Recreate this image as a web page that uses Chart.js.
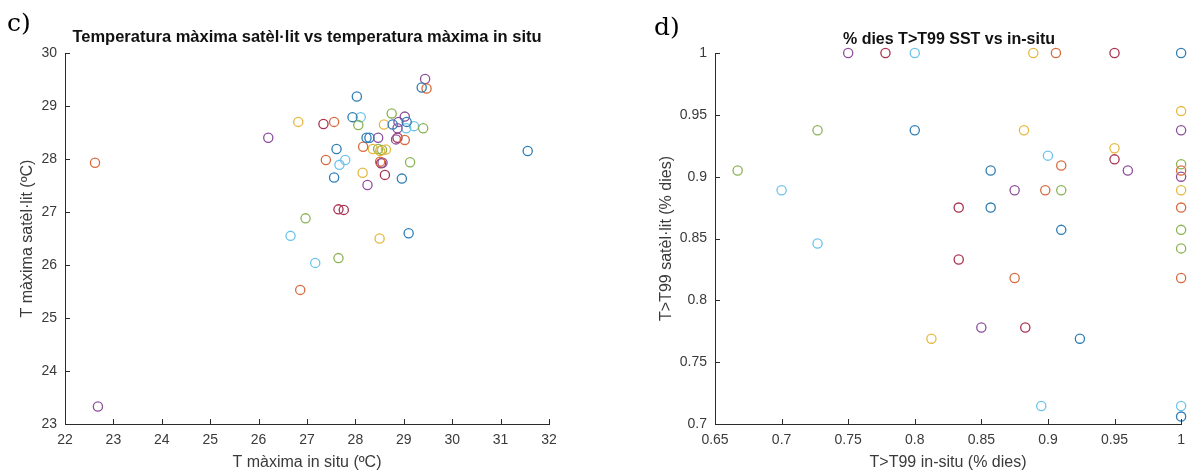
<!DOCTYPE html>
<html>
<head>
<meta charset="utf-8">
<script src="https://cdn.jsdelivr.net/npm/chart.js@4.4.1/dist/chart.umd.min.js"></script>
<style>
  html, body { margin: 0; padding: 0; background: #ffffff; }
  #page { position: relative; width: 1193px; height: 474px; overflow: hidden; background: #fff; }
  .panel { position: absolute; top: 0; height: 474px; }
  .tag { position: absolute; font-family: "DejaVu Serif", "Liberation Serif", serif; font-size: 25px; color: #000; line-height: 28px; }
  .ttl { position: absolute; font-family: "Liberation Sans", Arial, sans-serif; font-weight: bold; color: #111; white-space: nowrap; transform: translateX(-50%); line-height: 20px; }
</style>
</head>
<body>
<div id="page">
  <div class="panel" style="left:0;width:596px;"><canvas id="chartC" width="596" height="474"></canvas></div>
  <div class="panel" style="left:596px;width:597px;"><canvas id="chartD" width="597" height="474"></canvas></div>
  <div class="tag" style="left:7px;top:9px;">c)</div>
  <div class="tag" style="left:654px;top:13px;">d)</div>
  <div class="ttl" style="left:307px;top:26px;font-size:16.5px;">Temperatura màxima satèl·lit vs temperatura màxima in situ</div>
  <div class="ttl" style="left:949px;top:29px;font-size:16px;">% dies T&gt;T99 SST vs in-situ</div>
</div>
<script>
// ---------- Panel c) data ----------
const tMaxInSitu = [29.44, 29.37, 29.47, 28.03, 27.94, 28.11, 28.06, 27.34, 27.56, 28.75,
                    28.59, 28.77, 29.02, 28.89, 29.06, 28.87, 29.05, 29.21, 29.40, 28.23,
                    28.29, 28.47, 28.84, 28.87, 29.02, 28.16, 28.36, 28.47, 28.51, 28.55,
                    28.63, 28.51, 28.53, 28.56, 27.61, 27.39, 27.79, 27.67, 29.13, 27.56,
                    28.15, 28.61, 28.96, 28.25, 26.82, 26.20, 27.65, 27.76, 26.97, 26.66,
                    27.17, 27.65, 26.86, 22.62, 22.68, 31.56, 29.10, 28.50];
const tMaxSatellite = [29.51, 29.35, 29.33, 29.18, 28.79, 28.79, 28.64, 28.66, 28.70, 28.86,
                       28.65, 28.65, 28.80, 28.70, 28.70, 28.58, 28.58, 28.62, 28.58, 28.40,
                       28.40, 28.40, 28.37, 28.40, 28.36, 28.23, 28.19, 28.19, 28.15, 28.17,
                       28.18, 27.95, 27.92, 27.93, 28.19, 27.98, 27.98, 27.89, 27.94, 27.65,
                       27.74, 27.70, 27.63, 27.51, 28.70, 28.40, 27.05, 27.04, 26.88, 26.55,
                       26.04, 26.13, 25.53, 27.93, 23.33, 28.15, 26.60, 26.50];
const seriesC = [3, 0, 1, 0, 0, 5, 4, 6, 1, 4,
                 2, 0, 3, 3, 0, 3, 5, 5, 4, 0,
                 0, 3, 3, 6, 1, 1, 2, 4, 2, 4,
                 2, 1, 6, 3, 0, 1, 5, 5, 4, 0,
                 2, 6, 0, 3, 2, 3, 6, 6, 4, 5,
                 5, 4, 1, 1, 3, 0, 0, 2];
const ticksC_X = [22, 23, 24, 25, 26, 27, 28, 29, 30, 31, 32];
const ticksC_Y = [23, 24, 25, 26, 27, 28, 29, 30];

// ---------- Panel d) data ----------
const daysInSitu = [0.750, 0.778, 0.800, 0.727, 0.800, 0.667, 0.700, 0.727, 0.833, 0.833,
                    0.8125, 0.889, 0.906, 0.950, 1.0, 1.0, 1.0, 0.882, 0.900, 0.950,
                    0.950, 0.910, 0.960, 0.857, 1.0, 1.0, 1.0, 0.875, 0.898, 0.910,
                    1.0, 0.857, 1.0, 0.910, 1.0, 1.0, 0.875, 1.0, 0.850, 0.883,
                    0.924, 0.895, 1.0, 1.0];
const daysSatellite = [1.0, 1.0, 1.0, 0.9375, 0.9375, 0.905, 0.889, 0.846, 0.875, 0.833,
                       0.769, 1.0, 1.0, 1.0, 1.0, 0.953, 0.9375, 0.9375, 0.917, 0.923,
                       0.914, 0.909, 0.905, 0.905, 0.910, 0.905, 0.900, 0.889, 0.889, 0.889,
                       0.889, 0.875, 0.875, 0.857, 0.857, 0.842, 0.818, 0.818, 0.778, 0.778,
                       0.769, 0.7145, 0.7145, 0.706];
const seriesD = [3, 6, 5, 4, 0, 4, 5, 5, 6, 6,
                 2, 2, 1, 6, 0, 2, 3, 2, 5, 2,
                 6, 1, 3, 0, 4, 1, 3, 3, 1, 4,
                 2, 0, 1, 0, 4, 4, 1, 1, 3, 6,
                 0, 5, 5, 0];
const ticksD_X = [0.65, 0.7, 0.75, 0.8, 0.85, 0.9, 0.95, 1];
const ticksD_Y = [0.7, 0.75, 0.8, 0.85, 0.9, 0.95, 1];

// ---------- styling ----------
const palette = ['#2f7db5', '#d86a3e', '#e6b840', '#8c4e9b', '#8ab354', '#6cc3ea', '#a8324f'];
const AXIS = '#2b2b2b';
const TXT = '#3a3a3a';
const FONT = '"Liberation Sans", Arial, sans-serif';

function buildDatasets(xs, ys, groups) {
  const sets = [];
  for (let g = 0; g < palette.length; g++) {
    const pts = [];
    for (let i = 0; i < xs.length; i++) if (groups[i] === g) pts.push({x: xs[i], y: ys[i]});
    sets.push({
      label: 'Sèrie ' + (g + 1),
      data: pts,
      showLine: false,
      pointStyle: 'circle',
      pointRadius: 4.6,
      pointBorderWidth: 1.3,
      pointBackgroundColor: 'rgba(0,0,0,0)',
      pointBorderColor: palette[g],
      borderColor: palette[g],
      backgroundColor: 'rgba(0,0,0,0)',
      clip: false
    });
  }
  return sets;
}

const inwardTicks = {
  id: 'inwardTicks',
  afterDraw(chart, args, opts) {
    const {ctx, chartArea} = chart;
    const xs = chart.scales.x, ys = chart.scales.y;
    ctx.save();
    ctx.strokeStyle = AXIS;
    ctx.lineWidth = 1;
    ctx.beginPath();
    opts.xTicks.forEach(v => {
      const p = Math.round(xs.getPixelForValue(v)) + 0.5;
      ctx.moveTo(p, chartArea.bottom);
      ctx.lineTo(p, chartArea.bottom - 5);
    });
    opts.yTicks.forEach(v => {
      const p = Math.round(ys.getPixelForValue(v)) + 0.5;
      ctx.moveTo(chartArea.left, p);
      ctx.lineTo(chartArea.left + 5, p);
    });
    ctx.stroke();
    ctx.restore();
  }
};

function makeChart(id, cfg) {
  const fmt = v => String(+Number(v).toFixed(2));
  return new Chart(document.getElementById(id), {
    type: 'scatter',
    data: { datasets: buildDatasets(cfg.xs, cfg.ys, cfg.groups) },
    plugins: [inwardTicks],
    options: {
      responsive: false,
      animation: false,
      events: [],
      layout: { padding: cfg.padding },
      plugins: {
        legend: { display: false },
        tooltip: { enabled: false },
        title: { display: false },
        inwardTicks: { xTicks: cfg.xTicks, yTicks: cfg.yTicks }
      },
      scales: {
        x: {
          type: 'linear',
          min: cfg.xTicks[0], max: cfg.xTicks[cfg.xTicks.length - 1],
          afterBuildTicks: s => { s.ticks = cfg.xTicks.map(v => ({value: v})); },
          afterFit: s => { s.height = cfg.xHeight; },
          grid: { display: false, drawTicks: false },
          border: { display: true, color: AXIS, width: 1 },
          ticks: { color: TXT, font: { family: FONT, size: 14 }, padding: 8, maxRotation: 0, autoSkip: false, callback: fmt },
          title: { display: true, text: cfg.xTitle, color: TXT, font: { family: FONT, size: 16, lineHeight: 1.2 }, padding: { top: 0, bottom: 0 } }
        },
        y: {
          type: 'linear',
          min: cfg.yTicks[0], max: cfg.yTicks[cfg.yTicks.length - 1],
          afterBuildTicks: s => { s.ticks = cfg.yTicks.map(v => ({value: v})); },
          afterFit: s => { s.width = cfg.yWidth; },
          grid: { display: false, drawTicks: false },
          border: { display: true, color: AXIS, width: 1 },
          ticks: { color: TXT, font: { family: FONT, size: 14 }, padding: 8, autoSkip: false, callback: fmt },
          title: { display: true, text: cfg.yTitle, color: TXT, font: { family: FONT, size: 16, lineHeight: 1.2 }, padding: { top: 0, bottom: 0 } }
        }
      }
    }
  });
}

makeChart('chartC', {
  xs: tMaxInSitu, ys: tMaxSatellite, groups: seriesC,
  xTicks: ticksC_X, yTicks: ticksC_Y,
  xTitle: 'T màxima in situ (ºC)', yTitle: 'T màxima satèl·lit (ºC)',
  padding: { left: 18, top: 53, right: 47, bottom: 2 },
  yWidth: 47, xHeight: 48
});

makeChart('chartD', {
  xs: daysInSitu, ys: daysSatellite, groups: seriesD,
  xTicks: ticksD_X, yTicks: ticksD_Y,
  xTitle: 'T>T99 in-situ (% dies)', yTitle: 'T>T99 satèl·lit (% dies)',
  padding: { left: 61, top: 53, right: 10, bottom: 2 },
  yWidth: 58, xHeight: 48
});
</script>
</body>
</html>
